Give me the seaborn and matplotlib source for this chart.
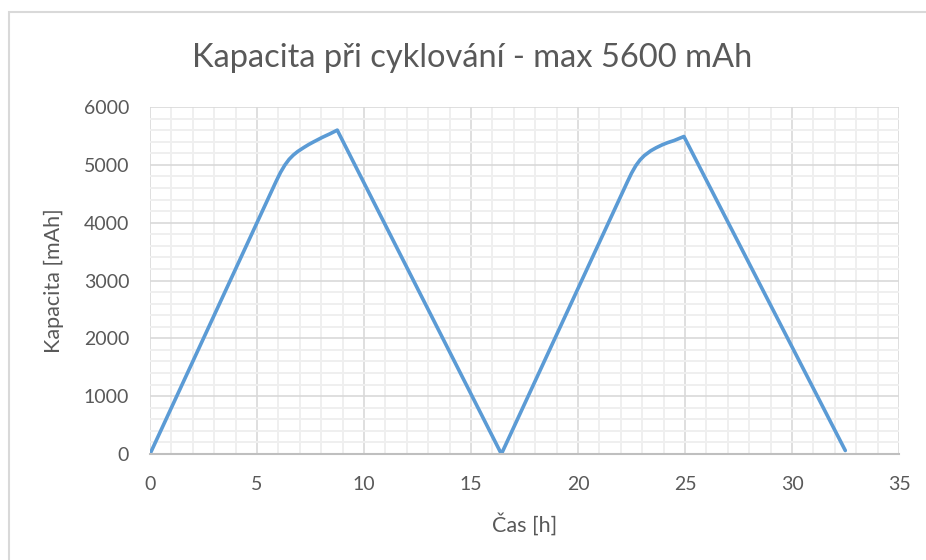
import matplotlib
matplotlib.use("Agg")
import matplotlib.pyplot as plt
from matplotlib.patches import Rectangle
from matplotlib.ticker import MultipleLocator
import seaborn as sns
import pandas as pd

# Data
cas_h = [0.0, 5.9, 6.1, 6.3, 6.5, 6.7, 6.9, 7.19, 7.42, 7.66, 8.05, 8.4, 8.75,
         16.42, 22.3, 22.5, 22.7, 22.9, 23.1, 23.4, 23.65, 23.94, 24.2, 24.49, 24.95,
         32.49]
kapacita_mah = [0, 4720, 4870, 4995, 5095, 5170, 5230, 5300, 5352, 5400, 5475, 5535, 5600,
                0, 4700, 4855, 4985, 5085, 5160, 5243, 5295, 5347, 5385, 5420, 5490,
                60]

title = "Kapacita při cyklování - max 5600 mAh"
xlabel = "Čas [h]"
ylabel = "Kapacita [mAh]"

sns.set_theme(style="white")
plt.rcParams["font.family"] = ["Lato", "DejaVu Sans"]

text_color = "#595959"
line_color = "#5b9bd5"

W, H = 926, 560
fig = plt.figure(figsize=(W / 100, H / 100), dpi=100)
fig.patch.set_facecolor("white")

ax = fig.add_axes([150 / W, 1 - 454 / H, (899 - 150) / W, (454 - 107) / H])

df = pd.DataFrame({"cas": cas_h, "kap": kapacita_mah})
sns.lineplot(data=df, x="cas", y="kap", ax=ax, color=line_color,
             linewidth=2.6, estimator=None, sort=False)
for ln in ax.get_lines():
    ln.set_solid_joinstyle("round")
    ln.set_solid_capstyle("round")

ax.set_xlim(0, 35)
ax.set_ylim(0, 6000)
ax.xaxis.set_major_locator(MultipleLocator(5))
ax.xaxis.set_minor_locator(MultipleLocator(1))
ax.yaxis.set_major_locator(MultipleLocator(1000))
ax.yaxis.set_minor_locator(MultipleLocator(200))
ax.grid(which="minor", color="#efefef", linewidth=1.4, zorder=0)
ax.grid(which="major", color="#d9d9d9", linewidth=1.2, zorder=0)
ax.set_axisbelow(True)

for s in ["left", "right", "top"]:
    ax.spines[s].set_visible(False)
ax.spines["bottom"].set_color("#bfbfbf")
ax.spines["bottom"].set_linewidth(1.5)

ax.tick_params(axis="both", which="both", length=0, colors=text_color,
               labelsize=14)
ax.tick_params(axis="x", pad=16)
ax.tick_params(axis="y", pad=15)

ax.set_xlabel(xlabel, fontsize=15.5, color=text_color, labelpad=14)
ax.set_ylabel(ylabel, fontsize=15.5, color=text_color, labelpad=14)

fig.text(472 / W, 1 - 58 / H, title, ha="center", va="center",
         fontsize=23.5, color=text_color)

# chart area border
fig.add_artist(Rectangle((9 / W, -0.1), 1.2, 1 - 12 / H + 0.1,
                         transform=fig.transFigure, fill=False,
                         edgecolor="#d9d9d9", linewidth=1.5))

fig.savefig("out.png", dpi=100, facecolor="white")
